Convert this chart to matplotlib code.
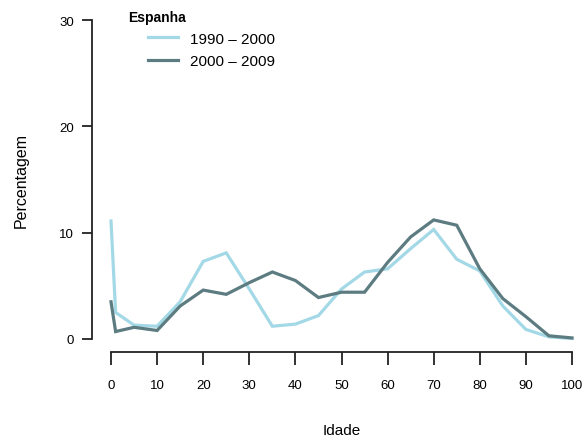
import matplotlib
matplotlib.use("Agg")
import matplotlib.pyplot as plt

plt.rcParams['font.family'] = ['Liberation Sans', 'DejaVu Sans']

# Age groups (years) and share of deaths (%) for Spain
idade = [0, 1, 5, 10, 15, 20, 25, 30, 35, 40, 45, 50, 55, 60, 65, 70, 75, 80, 85, 90, 95, 100]
p_1990_2000 = [11.1, 2.5, 1.3, 1.2, 3.5, 7.3, 8.1, 4.7, 1.2, 1.4, 2.2, 4.7, 6.3, 6.6, 8.5, 10.3, 7.5, 6.4, 3.1, 0.9, 0.2, 0.05]
p_2000_2009 = [3.5, 0.7, 1.1, 0.8, 3.1, 4.6, 4.2, 5.3, 6.3, 5.5, 3.9, 4.4, 4.4, 7.2, 9.6, 11.2, 10.7, 6.6, 3.8, 2.1, 0.3, 0.1]
series_labels = ["1990 – 2000", "2000 – 2009"]
legend_title = "Espanha"
x_ticks = [0, 10, 20, 30, 40, 50, 60, 70, 80, 90, 100]
y_ticks = [0, 10, 20, 30]

light = "#a3d9e6"
dark = "#5d7c81"

fig = plt.figure(figsize=(5.86, 4.39), dpi=100)
ax = fig.add_axes([111 / 586, 1 - 340 / 439, 461 / 586, 319 / 439])

ax.plot(idade, p_1990_2000, color=light, lw=2.3, label=series_labels[0],
        clip_on=False, solid_joinstyle='miter')
ax.plot(idade, p_2000_2009, color=dark, lw=2.3, label=series_labels[1],
        clip_on=False, solid_joinstyle='miter')

ax.set_xlim(0, 100)
ax.set_ylim(0, 30)
ax.set_xticks(x_ticks)
ax.set_yticks(y_ticks)

for s in ("top", "right"):
    ax.spines[s].set_visible(False)
ax.spines["left"].set_position(("outward", 13.7))
ax.spines["bottom"].set_position(("outward", 9.4))
ax.spines["left"].set_bounds(0, 30)
ax.spines["bottom"].set_bounds(0, 100)
for s in ("left", "bottom"):
    ax.spines[s].set_linewidth(1.3)
    ax.spines[s].set_color("#222222")

ax.tick_params(axis="y", length=7, width=1.3, color="#222222", pad=6, labelsize=9.5)
ax.tick_params(axis="x", length=9.5, width=1.3, color="#222222", pad=10, labelsize=9.5)

ax.set_xlabel("Idade", fontsize=11, labelpad=23)
ax.set_ylabel("Percentagem", fontsize=11.5, labelpad=22)

# Legend: bold title sits left of the line handles
fig.text(128 / 586, 1 - 18 / 439, legend_title, fontsize=10, fontweight="bold",
         ha="left", va="center")
leg = ax.legend(loc="upper left", bbox_to_anchor=(137 / 586, 1 - 22 / 439),
                bbox_transform=fig.transFigure, frameon=False, fontsize=11,
                handlelength=2.0, handletextpad=0.8,
                labelspacing=0.55, borderpad=0.2)

fig.savefig("out.png", dpi=100)
